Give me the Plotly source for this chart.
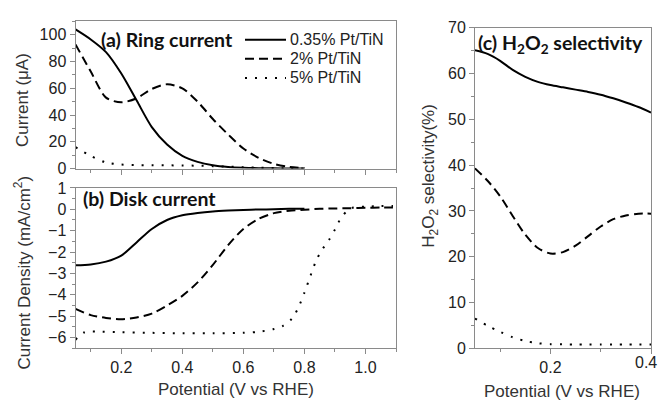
import plotly.graph_objects as go

# ---- data -------------------------------------------------------------
series_names = ["0.35% Pt/TiN", "2% Pt/TiN", "5% Pt/TiN"]

# (a) ring current, uA
ring_x = [0.05, 0.10, 0.15, 0.20, 0.25, 0.30, 0.35, 0.40,
          0.45, 0.50, 0.55, 0.60, 0.65, 0.70, 0.75, 0.80]
ring_035 = [104.0, 96.5, 87.0, 71.0, 51.0, 31.0, 18.0, 9.5,
            5.0, 2.5, 1.2, 0.6, 0.3, 0.15, 0.05, 0.0]
ring_2 = [92.8, 72.5, 53.0, 49.5, 52.5, 59.5, 63.0, 60.0,
          50.0, 37.0, 25.5, 15.0, 8.0, 3.5, 1.2, 0.3]
ring_5 = [16.0, 9.5, 4.5, 3.0, 2.6, 2.5, 2.4, 2.3,
          2.1, 1.8, 1.4, 1.0, 0.7, 0.4, 0.2, 0.1]

# (b) disk current density, mA/cm2
disk_x_035 = [0.05, 0.10, 0.15, 0.20, 0.25, 0.30, 0.35, 0.40,
              0.45, 0.50, 0.55, 0.60, 0.65, 0.70, 0.75, 0.80]
disk_035 = [-2.62, -2.58, -2.45, -2.17, -1.55, -0.92, -0.50, -0.28,
            -0.17, -0.10, -0.06, -0.03, -0.01, 0.0, 0.02, 0.03]
disk_x_2 = [0.05, 0.10, 0.15, 0.20, 0.25, 0.30, 0.35, 0.40, 0.45, 0.50, 0.55,
            0.60, 0.65, 0.70, 0.75, 0.80, 0.85, 0.90, 0.95, 1.00, 1.05, 1.09]
disk_2 = [-4.66, -4.95, -5.08, -5.14, -5.06, -4.88, -4.50, -4.05, -3.42, -2.60, -1.68,
          -0.92, -0.45, -0.18, -0.07, -0.02, 0.02, 0.04, 0.05, 0.07, 0.08, 0.08]
disk_x_5 = [0.05, 0.08, 0.12, 0.20, 0.30, 0.40, 0.50, 0.60, 0.65, 0.70, 0.73, 0.76,
            0.78, 0.80, 0.82, 0.84, 0.86, 0.88, 0.90, 0.92, 0.94, 0.96, 1.00, 1.05, 1.09]
disk_5 = [-6.10, -5.75, -5.72, -5.75, -5.78, -5.80, -5.80, -5.78, -5.73, -5.60, -5.45, -5.10,
          -4.60, -3.90, -3.10, -2.35, -1.85, -1.45, -0.95, -0.40, -0.08, 0.08, 0.12, 0.15, 0.15]

# (c) H2O2 selectivity, %
sel_x = [0.050, 0.075, 0.100, 0.125, 0.150, 0.175, 0.200, 0.225,
         0.250, 0.275, 0.300, 0.325, 0.350, 0.375, 0.400]
sel_035 = [65.1, 64.3, 62.8, 60.8, 59.3, 58.2, 57.5, 57.0,
           56.5, 56.0, 55.4, 54.6, 53.7, 52.7, 51.5]
sel_2 = [39.3, 36.6, 33.2, 28.9, 24.8, 21.9, 20.7, 21.0,
         22.4, 24.5, 26.6, 28.2, 29.0, 29.4, 29.4]
sel_5 = [6.5, 4.9, 3.6, 2.4, 1.6, 1.1, 0.9, 0.85,
         0.8, 0.8, 0.8, 0.8, 0.8, 0.8, 0.8]

sel_ticks = [0.2, 0.4]
sel_minor_ticks = [0.1, 0.3]

# ---- styling ----------------------------------------------------------
W, H = 660, 409
dashes = ["solid", "9px,5px", "2px,8px"]
AXIS_GREY = "#8a8a8a"
TICK_FONT = dict(family="Liberation Sans, Arial", size=16, color="#222222")
TITLE_FONT = dict(family="Liberation Sans, Arial", size=17, color="#333333")
LEGEND_FONT = dict(family="Liberation Sans, Arial", size=16, color="#222222")
LABEL_FONT = dict(family="Lato, Open Sans", size=19.5, color="#111111")


def px_x(p):
    return p / W


def px_y(p):
    return 1 - p / H


fig = go.Figure()

panels = [
    ("x", "y", [ring_x, ring_x, ring_x], [ring_035, ring_2, ring_5]),
    ("x2", "y2", [disk_x_035, disk_x_2, disk_x_5], [disk_035, disk_2, disk_5]),
    ("x3", "y3", [sel_x, sel_x, sel_x], [sel_035, sel_2, sel_5]),
]
for xa, ya, xs, ys in panels:
    for i in range(3):
        fig.add_trace(go.Scatter(
            x=xs[i], y=ys[i], xaxis=xa, yaxis=ya, mode="lines",
            name=series_names[i], showlegend=False,
            line=dict(color="black", width=2, dash=dashes[i],
                      shape="spline", smoothing=0.8),
        ))

common = dict(showline=True, linecolor=AXIS_GREY, linewidth=1, mirror=True,
              ticks="outside", ticklen=5, tickcolor=AXIS_GREY, tickwidth=1,
              showgrid=False, zeroline=False, tickfont=TICK_FONT)


def minor(**kw):
    return dict(ticks="outside", ticklen=3, tickcolor=AXIS_GREY, **kw)


dom_ab_x = [px_x(75.5), px_x(396)]
fig.update_layout(
    width=W, height=H, margin=dict(l=0, r=0, t=0, b=0),
    paper_bgcolor="white", plot_bgcolor="white", showlegend=False,
    xaxis=dict(domain=dom_ab_x, anchor="y", range=[0.05, 1.1], dtick=0.2, tick0=0,
               showticklabels=False, minor=minor(dtick=0.1, tick0=0), **common),
    yaxis=dict(domain=[px_y(167.5), px_y(14)], anchor="x", range=[0, 110], dtick=20,
               minor=minor(dtick=10), **common),
    xaxis2=dict(domain=dom_ab_x, anchor="y2", range=[0.05, 1.1], dtick=0.2, tick0=0,
                tickformat=".1f", minor=minor(dtick=0.1, tick0=0), **common),
    yaxis2=dict(domain=[px_y(355), px_y(187.7)], anchor="x2", range=[-6.5, 1], dtick=1,
                minor=minor(dtick=0.5), **common),
    xaxis3=dict(domain=[px_x(475), px_x(651)], anchor="y3", range=[0.05, 0.4],
                tickvals=sel_ticks, tickformat=".1f",
                minor=minor(tickvals=sel_minor_ticks), **common),
    yaxis3=dict(domain=[px_y(355), px_y(20.7)], anchor="x3", range=[0, 70], dtick=10,
                minor=minor(dtick=5), **common),
)

# legend for panel (a): line sample + label per series
shapes = []
annotations = []
for i, name in enumerate(series_names):
    row_y = px_y(33 + 20 * i)
    shapes.append(dict(type="line", xref="paper", yref="paper",
                       x0=px_x(245), x1=px_x(286), y0=row_y, y1=row_y,
                       line=dict(color="black", width=2, dash=dashes[i])))
    annotations.append(dict(text=name, x=px_x(288), y=row_y, xanchor="left",
                            yanchor="middle", font=LEGEND_FONT))

annotations += [
    # last tick label of panel (c) sits on the figure edge, so it is placed by hand,
    # pulled in just enough to stay inside the page
    dict(text=f"{sel_ticks[-1]:.1f}", xref="x3", yref="paper", x=sel_ticks[-1],
         y=px_y(370), xanchor="right", yanchor="middle", xshift=8, font=TICK_FONT),
    dict(text="<b>(a) Ring current</b>", x=px_x(99), y=px_y(33), xanchor="left", yanchor="middle",
         font=LABEL_FONT),
    dict(text="<b>(b) Disk current</b>", x=px_x(81), y=px_y(199), xanchor="left", yanchor="middle",
         font=LABEL_FONT),
    dict(text="<b>(c) H<sub>2</sub>O<sub>2</sub> selectivity</b>", x=px_x(476), y=px_y(38),
         xanchor="left", yanchor="middle", font=LABEL_FONT),
    dict(text="Current (\u03bcA)", x=px_x(22), y=px_y(96), textangle=-90,
         xanchor="center", yanchor="middle", font=TITLE_FONT),
    dict(text="Current Density (mA/cm<sup>2</sup>)", x=px_x(22), y=px_y(276), textangle=-90,
         xanchor="center", yanchor="middle", font=TITLE_FONT),
    dict(text="H<sub>2</sub>O<sub>2</sub> selectivity(%)", x=px_x(430), y=px_y(175), textangle=-90,
         xanchor="center", yanchor="middle", font=TITLE_FONT),
    dict(text="Potential (V vs RHE)", x=px_x(236), y=px_y(398),
         xanchor="center", yanchor="middle", font=TITLE_FONT),
    dict(text="Potential (V vs RHE)", x=px_x(562), y=px_y(400),
         xanchor="center", yanchor="middle", font=TITLE_FONT),
]
for a in annotations:
    a.setdefault("xref", "paper")
    a.setdefault("yref", "paper")
    a.update(showarrow=False)
fig.update_layout(annotations=annotations, shapes=shapes)

fig.write_html("out.html")
